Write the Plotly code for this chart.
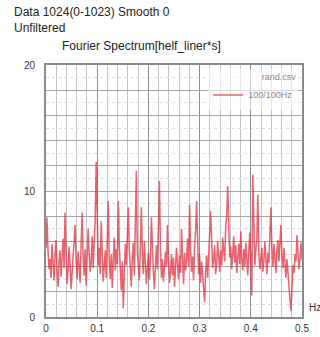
import numpy as np
import plotly.graph_objects as go

# Amplitude spectrum of rand.csv (1024 samples), frequency axis 0 .. 0.5 Hz
amplitude = [
    5.5, 7.9, 5.2, 3.8, 4.6, 3.1, 5.8, 4.2, 2.9, 4.9, 6.1, 3.6, 2.4, 4.4, 5.3, 3.2,
    4.8, 6.2, 3.9, 8.3, 5.1, 2.6, 3.8, 5.6, 4.1, 2.2, 3.5, 4.7, 6.0, 7.3, 4.4, 3.0,
    5.2, 4.0, 2.7, 5.9, 8.3, 4.6, 3.3, 5.4, 2.5, 4.8, 7.0, 5.1, 3.6, 4.3, 6.4, 3.9,
    5.7, 7.8, 12.3, 6.2, 4.1, 5.5, 3.4, 7.6, 4.9, 2.8, 4.0, 5.3, 3.1, 6.1, 9.2, 4.5,
    3.0, 5.0, 2.3, 4.6, 6.3, 3.7, 5.4, 4.2, 9.2, 5.6, 3.2, 2.1, 4.4, 0.7, 3.5, 5.8,
    4.1, 6.6, 8.7, 5.3, 3.6, 2.4, 4.7, 5.9, 3.3, 6.8, 11.6, 5.2, 4.0, 2.9, 5.5, 8.7,
    4.8, 3.4, 6.0, 4.3, 2.6, 3.9, 5.1, 3.0, 4.6, 7.9, 5.0, 3.5, 2.2, 4.1, 5.7, 3.8,
    6.5, 10.8, 5.4, 3.1, 4.6, 2.8, 3.9, 5.2, 4.0, 7.3, 4.5, 2.7, 3.6, 5.0, 3.3, 4.7,
    2.4, 3.8, 5.5, 4.2, 3.0, 4.9, 3.5, 7.0, 4.3, 2.6, 5.1, 3.7, 4.5, 6.2, 4.0, 8.9,
    5.3, 3.6, 4.8, 2.9, 5.6, 6.8, 9.2, 4.7, 3.4, 5.0, 2.7, 4.4, 3.2, 2.0, 1.2, 3.6,
    4.9, 3.1, 5.8, 6.6, 8.4, 5.2, 3.9, 4.6, 5.7, 3.4, 4.2, 6.0, 4.8, 3.6, 5.3, 4.1,
    6.3, 5.0, 4.4, 7.2, 8.1, 10.4, 6.1, 4.7, 5.6, 3.8, 5.1, 6.4, 4.3, 5.7, 3.5, 4.9,
    5.8, 4.2, 6.8, 4.6, 3.7, 5.4, 4.0, 5.9, 4.8, 3.3, 5.2, 6.7, 4.5, 1.7, 11.3, 5.6,
    4.1, 5.3, 6.2, 9.7, 5.0, 3.8, 4.7, 5.5, 3.6, 4.4, 6.0, 4.9, 3.4, 5.1, 4.3, 6.6,
    8.7, 5.4, 4.0, 5.8, 4.6, 3.5, 5.2, 6.1, 4.4, 5.7, 7.3, 4.8, 3.9, 5.5, 4.2, 3.1,
    4.6, 3.3, 2.1, 1.4, 0.5, 2.8, 4.1, 3.5, 5.0, 4.4, 6.5, 5.1, 3.8, 4.7, 5.9, 4.5,
]
frequency = np.linspace(0.0, 0.5, len(amplitude))

x_ticks = [0, 0.1, 0.2, 0.3, 0.4, 0.5]
x_labels = ["0", "0.1", "0.2", "0.3", "0.4", "0.5"]
y_ticks = [0, 2, 4, 6, 8, 10, 12, 14, 16, 18, 20]
y_labels = ["0", "", "", "", "", "10", "", "", "", "", "20"]

FONT = "Liberation Sans, Arial, sans-serif"

fig = go.Figure()
fig.add_trace(go.Scatter(
    x=frequency, y=amplitude, mode="lines", name="100/100Hz",
    line=dict(color="rgba(226,48,62,0.75)", width=1.5),
))

fig.update_layout(
    width=320, height=337,
    margin=dict(l=46, r=18, t=65, b=20, autoexpand=False),
    paper_bgcolor="white", plot_bgcolor="white",
    font=dict(family=FONT, color="#222"),
    showlegend=True,
    legend=dict(
        x=0.985, y=0.985, xanchor="right", yanchor="top",
        bgcolor="rgba(255,255,255,0.6)", borderwidth=0,
        font=dict(size=9, color="#888"),
        title=dict(text="rand.csv", side="top right", font=dict(size=9, color="#888")),
        itemwidth=30, tracegroupgap=0,
    ),
    xaxis=dict(
        range=[0, 0.5], tickvals=x_ticks, ticktext=x_labels, automargin=False,
        tickfont=dict(size=10, color="#333"), ticks="", ticklabelstandoff=1,
        showgrid=True, gridcolor="#8e8e8e", gridwidth=1,
        minor=dict(dtick=0.02, showgrid=True, gridcolor="#c4c4c4", gridwidth=1),
        showline=True, linecolor="#8a8a8a", linewidth=2, mirror=True,
        zeroline=False, fixedrange=True,
    ),
    yaxis=dict(
        range=[0, 20], tickvals=y_ticks, ticktext=y_labels, automargin=False,
        tickfont=dict(size=10, color="#333"), ticks="", ticklabelstandoff=7,
        showgrid=True, gridcolor="#a4a4a4", gridwidth=1,
        minor=dict(dtick=1, showgrid=True, gridcolor="#dddddd", griddash="dot"),
        showline=True, linecolor="#8a8a8a", linewidth=2, mirror=True,
        zeroline=False, fixedrange=True,
    ),
    annotations=[
        dict(text="Data 1024(0-1023) Smooth 0", x=12, y=337 - 12, xref="paper", yref="paper",
             showarrow=False, xanchor="left", yanchor="middle", font=dict(size=12, color="#222")),
        dict(text="Unfiltered", x=12, y=337 - 28, xref="paper", yref="paper",
             showarrow=False, xanchor="left", yanchor="middle", font=dict(size=12, color="#222")),
        dict(text="Fourier Spectrum[helf_liner*s]", x=60, y=337 - 46, xref="paper", yref="paper",
             showarrow=False, xanchor="left", yanchor="middle", font=dict(size=12, color="#222")),
        dict(text="Hz", x=307, y=337 - 307, xref="paper", yref="paper",
             showarrow=False, xanchor="left", yanchor="middle", font=dict(size=10, color="#333")),
    ],
)

# Header annotations are positioned in pixels; convert to paper fractions
plot_w = 320 - 46 - 18
plot_h = 337 - 65 - 20
for ann in fig.layout.annotations:
    ann.x = (ann.x - 46) / plot_w
    ann.y = (ann.y - 20) / plot_h

fig.write_html("out.html")
